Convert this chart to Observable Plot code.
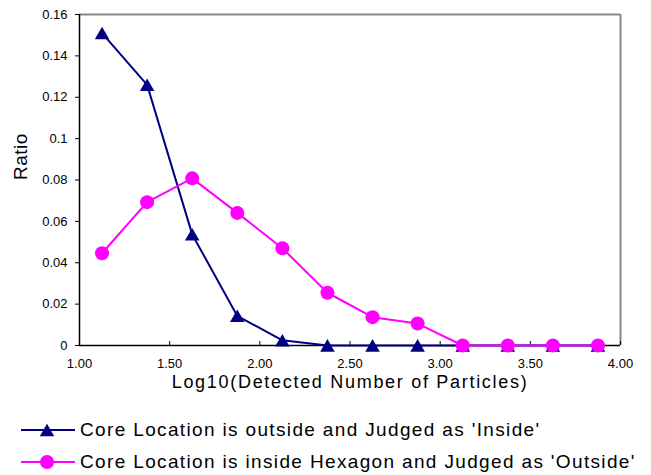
<!DOCTYPE html>
<html><head><meta charset="utf-8">
<script src="https://cdn.jsdelivr.net/npm/d3@7"></script>
<script src="https://cdn.jsdelivr.net/npm/@observablehq/plot@0.6"></script>
<style>
body{margin:0;background:#fff;}
#wrap{position:relative;width:651px;height:475px;font-family:"Liberation Sans",Arial,sans-serif;}
#legend{position:absolute;left:0;top:0;}
.row{position:absolute;left:20px;display:flex;align-items:center;font-size:19px;letter-spacing:1.35px;color:#000;white-space:nowrap;}
.row svg{display:block;}
</style>
</head><body><div id="wrap"><div id="chart"></div><div id="legend"></div></div>
<script>
const xValues = [1.125, 1.375, 1.625, 1.875, 2.125, 2.375, 2.625, 2.875, 3.125, 3.375, 3.625, 3.875];
const insideJudged = [0.151, 0.126, 0.0537, 0.0143, 0.0025, 0, 0, 0, 0, 0, 0, 0];
const outsideJudged = [0.0446, 0.0693, 0.0808, 0.0641, 0.047, 0.0255, 0.0137, 0.0106, 0, 0, 0, 0];
const xTicks = [1, 1.5, 2, 2.5, 3, 3.5, 4];
const yTicks = [0, 0.02, 0.04, 0.06, 0.08, 0.1, 0.12, 0.14, 0.16];
const seriesNames = ["Core Location is outside and Judged as 'Inside'", "Core Location is inside Hexagon and Judged as 'Outside'"];
const seriesColors = ["#000080", "#ff00ff"];
const xLabel = "Log10(Detected Number of Particles)";
const yLabel = "Ratio";

const tri = xValues.map((x, i) => ({x, y: insideJudged[i]}));
const circ = xValues.map((x, i) => ({x, y: outsideJudged[i]}));

const chart = Plot.plot({
  width: 651, height: 400,
  marginLeft: 79, marginRight: 31, marginTop: 14, marginBottom: 55,
  x: {domain: [1, 4]},
  y: {domain: [0, 0.16]},
  style: {fontFamily: "'Liberation Sans', Arial, sans-serif", fontSize: "13px", color: "#000", background: "#fff"},
  marks: [
    Plot.ruleY([0.16], {stroke: "#888", strokeWidth: 2}),
    Plot.ruleX([4], {stroke: "#888", strokeWidth: 2}),
    Plot.ruleX(xTicks, {y1: 0, y2: 0, insetBottom: 4, stroke: "#000"}),
    Plot.axisY({ticks: yTicks, tickSize: 4, tickPadding: 8, label: null,
      tickFormat: d => d === 0 ? "0" : String(+d.toFixed(2))}),
    Plot.axisX({ticks: xTicks, tickSize: 0, tickPadding: 13, label: null, tickFormat: d3.format(".2f")}),
    Plot.ruleX([1], {stroke: "#000", strokeWidth: 1.5}),
    Plot.ruleY([0], {stroke: "#000", strokeWidth: 1.5}),
    Plot.line(tri, {x: "x", y: "y", stroke: seriesColors[0], strokeWidth: 2}),
    Plot.dot(tri, {x: "x", y: "y", symbol: "triangle", r: 5.4, fill: seriesColors[0], dy: 2}),
    Plot.line(circ, {x: "x", y: "y", stroke: seriesColors[1], strokeWidth: 2}),
    Plot.dot(circ, {x: "x", y: "y", r: 7, fill: seriesColors[1]}),
    Plot.text([xLabel], {frameAnchor: "bottom", dy: 42, fontSize: 18, className: "xlab"}),
    Plot.text([yLabel], {frameAnchor: "left", dx: -59, rotate: -90, fontSize: 19, className: "ylab"})
  ]
});
d3.select(chart).selectAll(".xlab text").attr("letter-spacing", "1.7px");
d3.select(chart).selectAll(".ylab text").attr("letter-spacing", "0.5px");
document.getElementById("chart").append(chart);

const legend = document.getElementById("legend");
const tops = [430, 462];
seriesNames.forEach((name, i) => {
  const row = document.createElement("div");
  row.className = "row";
  row.style.top = (tops[i] - 12) + "px";
  const marker = i === 0
    ? `<path d="${d3.symbol(d3.symbolTriangle, 90)()}" transform="translate(27,14)" fill="${seriesColors[i]}"/>`
    : `<circle cx="27" cy="12" r="7" fill="${seriesColors[i]}"/>`;
  row.innerHTML = `<svg width="60" height="24"><line x1="1" x2="55" y1="12" y2="12" stroke="${seriesColors[i]}" stroke-width="2"/>${marker}</svg><span>${name}</span>`;
  legend.append(row);
});
</script>
</body></html>
